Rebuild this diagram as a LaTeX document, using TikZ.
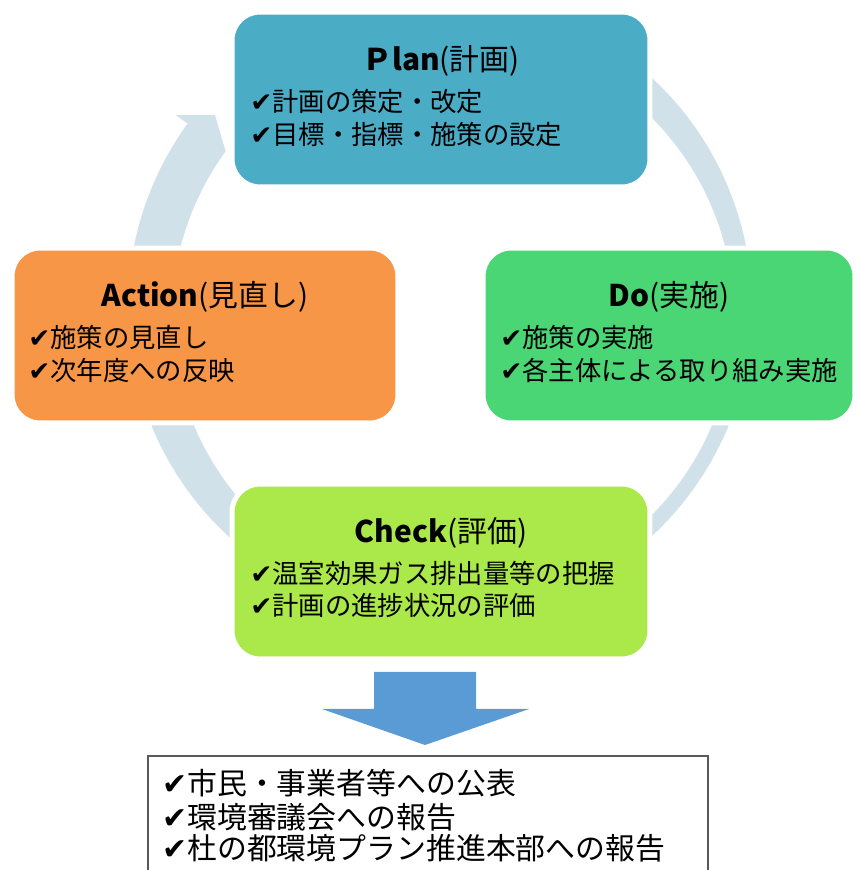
\documentclass[tikz,border=0pt]{standalone}
\usepackage{fontspec}
\setmainfont{Noto Sans CJK JP}
\newfontfamily\chkfont{DejaVu Sans}
\usepackage{xcolor}
\usepackage{tikz}
\usetikzlibrary{positioning}
\definecolor{plancol}{HTML}{4BACC6}
\definecolor{docol}{HTML}{4BD675}
\definecolor{actcol}{HTML}{F79646}
\definecolor{chkcol}{HTML}{ABE84A}
\definecolor{ringcol}{HTML}{D0E1E9}
\definecolor{arrcol}{HTML}{5B9BD5}
\definecolor{boxgray}{HTML}{595959}
\newcommand{\chk}{{\chkfont ✔}}
\tikzset{
    cbox/.style = {rectangle, rounded corners=0.56cm, draw=white, line width=0.1cm, minimum height=3.5cm},
    ttl/.style = {inner sep=0pt, font=\fontsize{17}{20}\selectfont},
    itm/.style = {anchor=west, inner sep=0pt, font=\fontsize{15}{18}\selectfont},
    ritm/.style = {anchor=west, inner sep=0pt, font=\fontsize{17}{20}\selectfont},
}

\begin{document}
\begin{tikzpicture}[x=0.02cm, y=0.02cm]
\useasboundingbox (0,0) rectangle (857,870);
% cycle arrow
\fill[ringcol, shift={(440,563)}] (55:312) arc[start angle=55, end angle=-216, radius=312]
    -- (-216:327) -- (-220.5:296) -- (-216:265)
    arc[start angle=-216, end angle=55, radius=281] -- cycle;
% boxes
\node[cbox, fill=plancol, minimum width=8.36cm] (plan) at (441,770.5) {};
\node[cbox, fill=actcol, minimum width=7.72cm] (act) at (205,534.5) {};
\node[cbox, fill=docol, minimum width=7.44cm] (do) at (669,534.5) {};
\node[cbox, fill=chkcol, minimum width=8.36cm] (check) at (441,298.5) {};
%
\node[ttl] (plant) at (441,809) {\textbf{Ｐlan}(計画)};
\node[itm] (plan1) at (250,768) {\chk 計画の策定・改定};
\node[itm] (plan2) at (250,735) {\chk 目標・指標・施策の設定};
%
\node[ttl] (actt) at (205,573) {\textbf{Action}(見直し)};
\node[itm] (act1) at (28,533) {\chk 施策の見直し};
\node[itm] (act2) at (28,500) {\chk 次年度への反映};
%
\node[ttl] (dot) at (669,573) {\textbf{Do}(実施)};
\node[itm] (do1) at (500,533) {\chk 施策の実施};
\node[itm] (do2) at (500,500) {\chk 各主体による取り組み実施};
%
\node[ttl] (checkt) at (441,337) {\textbf{Check}(評価)};
\node[itm] (check1) at (250,297) {\chk 温室効果ガス排出量等の把握};
\node[itm] (check2) at (250,264) {\chk 計画の進捗状況の評価};
% down arrow
\fill[arrcol] (374,198) -- (476,198) -- (476,161) -- (529,161) -- (425,125)
    -- (322,161) -- (374,161) -- cycle;
% report box
\node[draw=boxgray, line width=0.04cm, fill=white, minimum width=11.2cm, minimum height=2.4cm] (rep) at (428,54) {};
\node[ritm] (rep1) at (162,87) {\chk 市民・事業者等への公表};
\node[ritm] (rep2) at (162,53) {\chk 環境審議会への報告};
\node[ritm] (rep3) at (162,22) {\chk 杜の都環境プラン推進本部への報告};
\end{tikzpicture}
\end{document}
